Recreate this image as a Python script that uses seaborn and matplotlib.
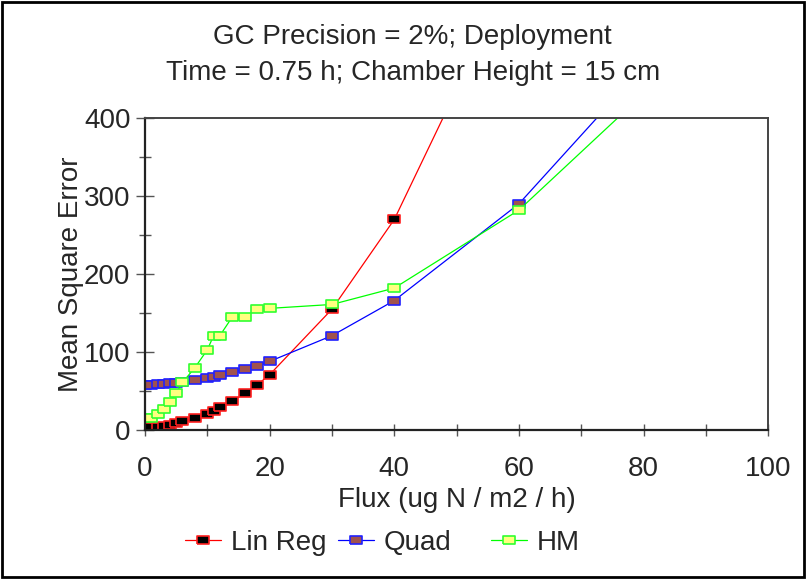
import numpy as np
import pandas as pd
import matplotlib
matplotlib.use('Agg')
import matplotlib.pyplot as plt
from matplotlib.patches import Rectangle
from matplotlib.ticker import MultipleLocator
import seaborn as sns

# data
flux = [0, 1, 2, 3, 4, 5, 6, 8, 10, 11, 12, 14, 16, 18, 20, 30, 40, 60, 80]
lin_reg = [4, 4, 4, 5, 7, 9, 11, 15, 20, 25, 29, 37, 47, 58, 71, 155, 270, 603, 938]
quad = [58, 58, 59, 59, 60, 60, 62, 64, 67, 68, 70, 74, 78, 82, 88, 121, 166, 290, 466]
hm = [16, 16, 21, 27, 36, 47, 61, 80, 103, 121, 121, 145, 145, 155, 156, 161, 182, 282, 431]
series_names = ['Lin Reg', 'Quad', 'HM']

df = pd.DataFrame({'Flux': flux, 'Lin Reg': lin_reg, 'Quad': quad, 'HM': hm})

sns.set_style('white')
plt.rcParams['font.family'] = ['Liberation Sans', 'DejaVu Sans']

styles = {
    'Lin Reg': dict(color='#ff0000', mfc='#000000', mec='#ff2020'),
    'Quad': dict(color='#0000ff', mfc='#a0524f', mec='#2020ff'),
    'HM': dict(color='#00ff00', mfc='#ffff80', mec='#30ff30'),
}
rect = [(-1, -0.75), (1, -0.75), (1, 0.75), (-1, 0.75), (-1, -0.75)]

fig = plt.figure(figsize=(8.06, 5.79), dpi=100)
ax = fig.add_axes([0.18, 0.2573, 0.773, 0.5388])

for name in series_names:
    st = styles[name]
    sns.lineplot(data=df, x='Flux', y=name, ax=ax, color=st['color'], lw=0.9,
                 marker=rect, markersize=8.5, markerfacecolor=st['mfc'],
                 markeredgecolor=st['mec'], markeredgewidth=1.2, clip_on=True)

ax.set_xlim(0, 100)
ax.set_ylim(0, 400)
ax.xaxis.set_major_locator(MultipleLocator(20))
ax.xaxis.set_minor_locator(MultipleLocator(10))
ax.yaxis.set_major_locator(MultipleLocator(100))
ax.yaxis.set_minor_locator(MultipleLocator(50))
ax.tick_params(axis='x', which='both', direction='inout', length=8, width=1,
               color='#555555', labelsize=20, pad=15, bottom=True)
ax.tick_params(axis='y', which='major', direction='inout', length=13, width=1,
               color='#555555', labelsize=20, pad=4, left=True)
ax.tick_params(axis='y', which='minor', direction='inout', length=9, width=1,
               color='#555555', left=True)
for s in ['left', 'bottom']:
    ax.spines[s].set_color('#222222')
    ax.spines[s].set_linewidth(1.6)
for s in ['top', 'right']:
    ax.spines[s].set_color('#444444')
    ax.spines[s].set_linewidth(1.4)

ax.set_xlabel('Flux (ug N / m2 / h)', fontsize=20, labelpad=3)
ax.set_ylabel('Mean Square Error', fontsize=20, labelpad=0)

fig.text(0.512, 0.905, 'GC Precision = 2%; Deployment\nTime = 0.75 h; Chamber Height = 15 cm',
         ha='center', va='center', fontsize=20, linespacing=1.5)

# legend, one entry per fixed slot
xs = [0.2295, 0.419, 0.609]
for name, x0 in zip(series_names, xs):
    st = styles[name]
    h = plt.Line2D([], [], color=st['color'], lw=0.9, marker=rect, markersize=8.5,
                   markerfacecolor=st['mfc'], markeredgecolor=st['mec'], markeredgewidth=1.2)
    fig.legend([h], [name], loc='center left', bbox_to_anchor=(x0, 0.062),
               frameon=False, fontsize=20, handlelength=1.3, handletextpad=0.35,
               borderpad=0, borderaxespad=0)

fig.add_artist(Rectangle((0.002, 0.003), 0.996, 0.994, transform=fig.transFigure,
                         fill=False, edgecolor='black', linewidth=2))

fig.savefig('out.png', dpi=100)
